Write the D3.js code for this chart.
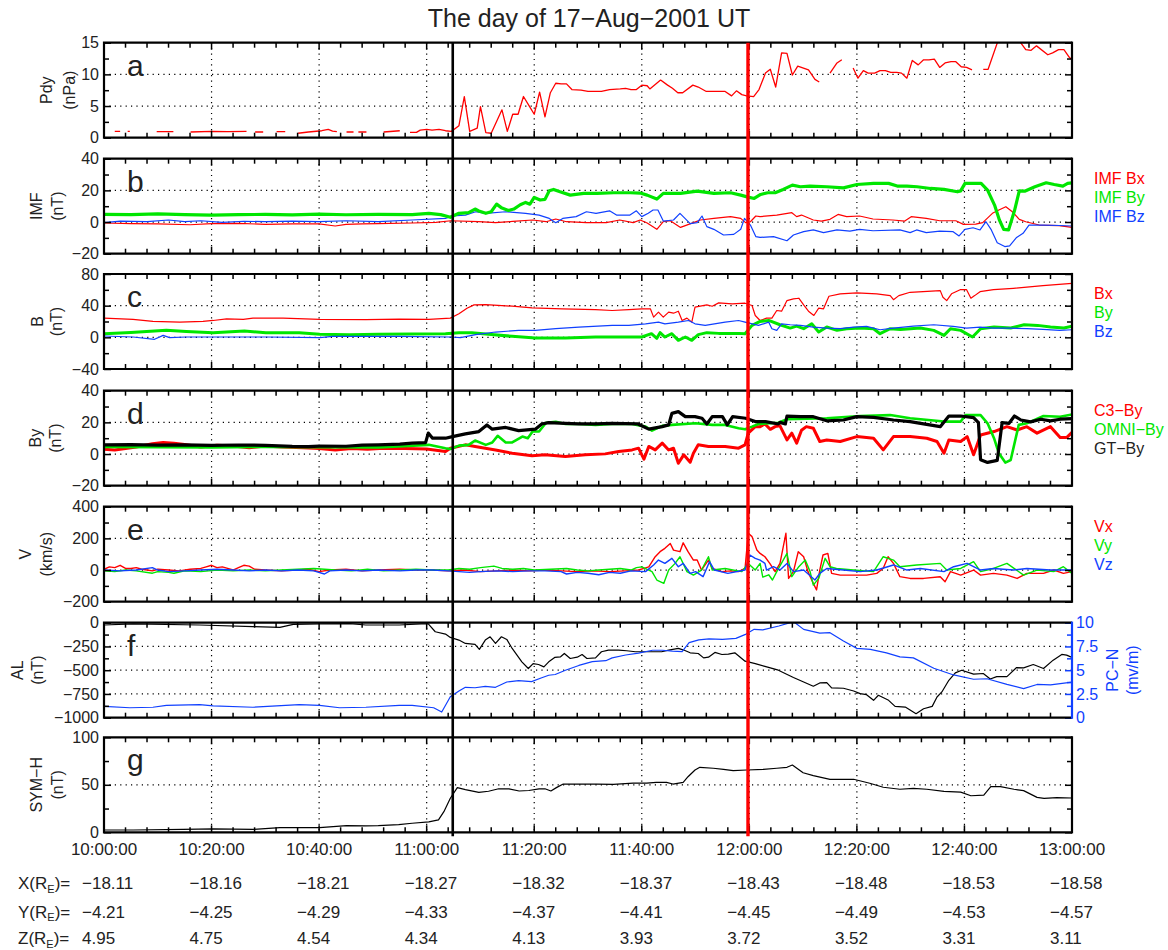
<!DOCTYPE html>
<html>
<head>
<meta charset="utf-8">
<script src="https://cdn.jsdelivr.net/npm/d3@7"></script>
<style>
  html, body { margin: 0; padding: 0; background: #fff; }
  svg { display: block; font-family: "Liberation Sans", Arial, Helvetica, sans-serif; }
</style>
</head>
<body>
<svg id="chart" width="1168" height="950"></svg>
<script>
// ---------------------------------------------------------------
// Time axis: minutes after 10:00 UT on 17-Aug-2001
// ---------------------------------------------------------------
const xTickLabels = ["10:00:00", "10:20:00", "10:40:00", "11:00:00", "11:20:00",
                     "11:40:00", "12:00:00", "12:20:00", "12:40:00", "13:00:00"];
const xGse = ["\u221218.11", "\u221218.16", "\u221218.21", "\u221218.27", "\u221218.32",
              "\u221218.37", "\u221218.43", "\u221218.48", "\u221218.53", "\u221218.58"];
const yGse = ["\u22124.21", "\u22124.25", "\u22124.29", "\u22124.33", "\u22124.37",
              "\u22124.41", "\u22124.45", "\u22124.49", "\u22124.53", "\u22124.57"];
const zGse = ["4.95", "4.75", "4.54", "4.34", "4.13", "3.93", "3.72", "3.52", "3.31", "3.11"];

// event markers (minutes after 10:00)
const eventTimes = [64.85, 119.75];

// (a) solar wind dynamic pressure, nPa  (null = data gap)
const pdy = [[2.0,1.0],[3.0,1.0],[3.0,null],[4.4,1.0],[4.8,1.0],[4.8,null],
  [9.8,0.95],[12.9,0.95],[12.9,null],[16.1,0.9],[20,1.0],[23,0.95],[26.5,1.0],[26.5,null],
  [28.1,0.9],[29.6,0.9],[29.6,null],[32.1,0.95],[33.7,0.95],[33.7,null],
  [36.1,0.7],[38,0.9],[40.5,1.1],[41.7,1.3],[42.5,1.05],[43.3,0.95],[43.3,null],
  [45.1,0.9],[46.4,0.9],[46.4,null],[47.3,0.9],[48.8,0.9],[48.8,null],
  [52,0.9],[55,1.1],[55,null],
  [56.9,0.85],[58.1,0.85],[58.8,1.2],[60,1.3],[61,1.2],[62.3,1.3],[63.5,1.1],[64.6,1.0],
  [66,1.9],[67,6.5],[68,1.0],[69.4,1.5],[70,4.9],[71,0.8],[72,0.7],[74,4.4],[75,1.0],
  [76,3.7],[77,3.7],[78,6.5],[79,5.1],[80,3.7],[81,7.2],[82,3.3],[83,7.1],[84,8.6],[85,8.5],
  [86,8.5],[87,7.6],[88.7,7.5],[90,7.3],[92.5,7.3],[94,7.6],[96,7.7],[97,7.8],[98,7.6],
  [99,7.6],[100,8.3],[101,8.2],[101.5,7.7],[103.5,9.1],[104.8,8.3],[105.7,7.8],[106.7,7.1],
  [107.6,7.1],[109.5,8.3],[110.5,8.0],[112,7.3],[115.5,7.3],[116.7,6.6],[117.6,7.4],
  [118.6,6.8],[119.5,6.6],[120.8,6.5],[121.8,7.6],[123,10.2],[123.9,10.8],[124.9,8.0],
  [126,13.4],[127,13.3],[128,9.9],[129,11.3],[131,10.7],[132.2,9.2],[133,8.8],[133,null],
  [135,10.2],[136.3,11.8],[137.2,12.3],[137.2,null],
  [139.3,11.0],[140.2,9.4],[141.2,10.6],[142.1,10.2],[143.3,10.2],[144.3,10.6],[145.3,10.6],
  [146.3,10.3],[147.4,10.3],[148.3,10.2],[149.3,9.4],[150.3,12.2],[151.4,11.5],[152.4,12.3],
  [153.4,12.3],[154.4,12.4],[155.4,11.1],[156.4,11.8],[157.5,12.0],[158.4,12.0],[159.4,11.2],
  [160.4,11.1],[161.4,10.7],[161.4,null],
  [163.5,10.8],[164.4,10.8],[166.2,15.2],[167.1,15.6],[168.2,15.2],[170.2,15.3],[171.4,13.9],
  [172.4,13.8],[173.4,14.5],[175.5,13.1],[176.4,13.4],[177.5,13.9],[178.5,13.9],[179.5,12.7],
  [180,12.3]];

// (b) IMF components, nT
const imfBx = [[0,-0.6],[5,-1.0],[10,-1.2],[16,-1.7],[20,-1.0],[25,-0.8],[30,-1.5],[35,-1.2],
  [40,-1.2],[43,-2.5],[45,-1.5],[48,-1.2],[51,-1.0],[57.3,-0.6],[61.7,-0.2],[64.5,0.8],
  [69.7,0.2],[72.8,-0.4],[76,0.4],[79.7,1.3],[82.2,0.2],[84,1.9],[86,0.2],[89.7,-0.4],
  [93.4,-0.4],[95.9,1.3],[98.4,-0.4],[99.7,1.3],[101,-0.6],[102.8,-4.6],[104,0.2],[105.3,0.8],
  [107.2,-3.4],[109.6,-0.4],[110.9,1.3],[113.4,2.3],[116.5,3.4],[118.4,2.3],[119.3,-0.4],
  [120.2,0.2],[121.2,3.8],[122,3.4],[125.1,4.4],[127.9,5.9],[128.8,3.4],[129.7,4.4],
  [131.9,1.3],[133.4,0.6],[135,1.7],[136.5,4.8],[138.1,3.4],[140.5,3.8],[143,1.9],[146.7,1.3],
  [148.9,0.6],[150.1,3.4],[152.9,2.3],[155.4,0.8],[158.4,0.8],[159.8,-1.5],[162.1,-1.3],
  [163.4,-0.4],[165.2,5.5],[166.4,7.6],[167.7,9.7],[168.9,6.5],[170.2,1.7],[171.4,0.2],
  [173.9,-1.9],[177.6,-2.3],[180,-3.4]];
const imfBy = [[0,4.8],[5,4.7],[10,5.2],[15,4.7],[20,4.4],[25,4.7],[30,4.8],[35,4.5],[40,5.0],
  [45,4.6],[51,4.8],[57.3,4.7],[60.4,5.5],[62.6,4.7],[64.4,3.0],[66,5.5],[67.8,5.9],[69,8.2],
  [69.7,7.0],[71,5.5],[72,6.5],[73,11.3],[74,8.8],[75.2,7.3],[76.2,8.2],[77.4,10.9],[78.4,12.4],
  [79.2,11.3],[80,15.5],[81.1,13.9],[82,14.3],[82.8,19.7],[83.6,20.6],[84.8,19.1],[86.7,17.0],
  [89.2,18.1],[91.7,18.1],[94.8,18.5],[97.9,18.5],[99.7,18.3],[101,17.0],[102.8,14.5],[104,18.1],
  [107.2,18.1],[110.3,19.5],[113.4,18.1],[116.5,18.5],[118.4,17.0],[119.6,15.9],[120.9,14.9],
  [122.1,17.4],[123.4,18.5],[124.8,18.5],[126.3,20.6],[128,23.3],[129.5,22.3],[131.3,22.7],
  [134.4,22.3],[137.5,21.6],[140,23.7],[143.1,24.4],[145.9,24.4],[147.5,22.7],[149.3,22.7],
  [151.2,22.3],[153.7,21.2],[156.2,20.6],[158.7,19.1],[159.3,19.7],[160.1,24.4],[163.1,24.4],
  [164.3,20.2],[165.6,10.7],[166.5,1.3],[167.3,-4.6],[168.2,-5.0],[169.3,7.1],[170.2,19.7],
  [171.2,19.5],[173.1,22.3],[175.2,24.8],[176.7,23.7],[178.3,22.7],[179.2,24.4],[180,24.8]];
const imfBz = [[0,-0.4],[3,0.6],[8,0.2],[12,1.3],[15,0.3],[18,0.8],[22,-0.2],[26,0.5],[30,0.2],
  [35,0.6],[40,0.2],[45,0.8],[51,0.2],[57.3,1.3],[63.5,2.3],[64.7,3.8],[67.2,4.4],[69.1,6.5],
  [71,5.5],[74.7,6.5],[78.4,5.5],[80.9,4.4],[82.8,2.3],[84,-0.4],[85.3,2.3],[87.8,3.4],[89.7,6.5],
  [91.5,5.5],[94,7.1],[95.3,4.4],[97.8,4.4],[99,7.1],[100,3.4],[101.2,5.5],[102.1,7.6],[103,7.6],
  [104,0.6],[105.9,1.3],[107.1,5.5],[109,-1.0],[110.3,-0.4],[111.2,3.8],[112.1,-2.9],[113.4,-4.6],
  [115.2,-8.2],[117.1,-7.8],[118.4,-4.6],[119.1,2.3],[120.2,-1.9],[121.2,-9.2],[122,-9.7],
  [124.5,-9.2],[127,-11.8],[128.2,-8.2],[130.1,-6.1],[131.9,-5.0],[133.8,-6.7],[136.3,-5.0],
  [138.7,-5.7],[140.5,-4.6],[143,-5.5],[148,-5.0],[149.9,-6.7],[151.1,-5.0],[152.9,-6.7],
  [155.4,-5.7],[157.9,-6.1],[159,-8.8],[160.1,-4.6],[161.6,-3.6],[162.9,-5.0],[164,0.2],
  [165,-5.0],[166.1,-13.1],[167.5,-15.5],[168.4,-15.0],[169.7,-9.7],[170.9,-7.1],[172,-1.9],
  [174.6,-1.9],[177.7,-2.2],[180,-2.5]];

// (c) magnetic field at the spacecraft, nT
const bx = [[0,24.3],[5.4,22.6],[9.1,20.1],[14.1,19.2],[18.4,20.1],[20.3,21.3],[22.8,23.4],
  [25.9,22.6],[27.7,24.3],[33.3,24.3],[40.1,22.6],[48.7,22.3],[54.9,23.0],[60.4,22.6],[64.4,24.3],
  [66,29.7],[67.5,36.8],[68.8,41.0],[71,41.4],[75.9,39.3],[79.6,37.2],[85.2,36.0],[91.4,35.1],
  [94.5,33.9],[97.6,35.1],[100,36.0],[101.6,36.0],[102.2,25.5],[103.1,31.8],[104,25.5],[105,31.8],
  [105.9,30.5],[106.8,33.0],[107.5,21.3],[108.4,24.3],[109.3,19.2],[109.9,38.1],[112.1,41.0],
  [113.1,39.3],[114.3,43.5],[116.8,42.3],[119.2,43.1],[120.5,40.2],[121.1,27.6],[122,21.3],
  [123.2,24.3],[124.2,24.3],[125.1,33.9],[126,33.0],[127,46.4],[128.2,48.5],[129.2,49.4],
  [130.1,41.0],[131,33.0],[132,27.6],[132.9,36.8],[133.8,36.0],[134.8,51.9],[136.9,54.8],
  [140,56.1],[143.7,54.8],[146.2,52.7],[146.8,47.6],[147.8,52.7],[149.9,56.9],[155.5,59.0],
  [156,50.6],[156.7,46.4],[157.6,55.0],[159.2,60.2],[160.4,60.2],[161.2,49.4],[161.9,52.7],
  [162.9,57.7],[165.4,60.2],[169.1,61.9],[174.6,65.2],[180,68.2]];
const by = [[0,4.6],[5,6.0],[11.6,8.8],[15.3,7.5],[20.3,5.9],[26.1,8.0],[30.1,5.9],[36.3,5.9],
  [40.1,3.8],[45.6,3.4],[51,3.8],[63.5,4.6],[66,5.9],[68.4,5.9],[71.5,3.8],[75.9,1.3],[80.2,-0.8],
  [85.8,-0.8],[91.4,0.4],[97,0.4],[100,0.4],[101.8,4.6],[102.8,-1.3],[103.4,5.9],[104.3,0.4],
  [105.6,4.6],[106.8,-3.8],[108.1,0.4],[109.3,-3.8],[110.5,3.4],[112.1,5.9],[114.3,5.0],[118,5.0],
  [119.2,4.6],[120.5,15.1],[122,20.1],[123.6,21.3],[125.7,15.9],[127.6,11.7],[128.8,14.2],
  [130.1,10.9],[131.6,17.1],[132.9,6.7],[134.4,13.0],[136.3,8.8],[138.1,10.9],[140.6,11.7],
  [143.1,10.9],[144.3,4.6],[146.2,10.9],[148.1,10.0],[151.8,11.7],[154.3,8.8],[156.2,2.5],
  [157.4,10.9],[159.3,8.8],[161.5,0.4],[163,10.9],[165.5,13.0],[168.6,11.7],[171.1,15.9],
  [173.6,15.1],[176,13.0],[178.5,11.7],[180,14.2]];
const bz = [[0,1.7],[5.4,0.4],[9.4,-2.5],[11,2.5],[12.2,-0.4],[15.3,0.4],[20.3,0.4],[30.1,0.4],
  [40.1,-0.4],[42.5,1.3],[54.9,1.3],[64.4,0.4],[66.3,-0.4],[69.1,3.4],[72.8,6.7],[77.1,8.8],
  [80.2,8.8],[84,10.9],[88.3,13.0],[94.5,15.1],[97.6,15.1],[100.7,17.1],[103.1,19.2],[104.3,17.1],
  [106.8,19.2],[108.7,21.3],[109.9,17.1],[111.8,15.1],[115.5,19.2],[118,21.3],[119.2,19.2],
  [121.7,15.1],[123.6,19.2],[124.2,10.9],[125.1,8.8],[126,17.1],[127.6,15.9],[129.5,15.1],
  [131.9,13.0],[134.4,11.7],[136.9,10.9],[139.4,13.0],[141.8,13.8],[144.3,9.6],[146.8,11.7],
  [150.5,14.2],[154.3,15.9],[157.9,13.8],[160.4,11.7],[162.9,13.0],[165.4,11.7],[168.4,11.7],
  [171.6,10.9],[174.6,10.0],[177.7,8.8],[180,9.6]];

// (d) By comparison, nT
const c3By = [[0,3.0],[2,2.5],[4,3.5],[6,4.5],[9,6.5],[11,7.3],[13,6.8],[15,6.0],[18,4.5],[21,5.5],
  [24,5.0],[27,4.0],[30,5.0],[33,4.5],[37,4.0],[40,3.5],[43,2.5],[46,3.5],[49,3.0],[52,3.7],
  [56,3.5],[60,3.2],[63.5,1.6],[64.4,3.7],[67.2,5.8],[69,4.8],[72.8,2.6],[75.9,0.5],[79.6,-1.1],
  [82,-0.5],[85.8,-1.6],[89.5,-0.5],[93.2,0.1],[95.7,1.6],[98.2,2.6],[99.4,3.7],[100.4,-3.2],
  [101.3,4.8],[102.5,2.6],[103.8,6.9],[105,2.6],[105.9,3.7],[106.8,-5.8],[107.8,-0.5],[109,-5.2],
  [109.6,0.5],[110.5,5.8],[112.4,4.8],[115.5,4.8],[118,3.7],[119.2,5.8],[119.8,13.2],[121.1,17.3],
  [122,17.3],[122.9,19.0],[123.9,15.6],[124.8,17.3],[125.7,17.8],[127,8.9],[127.9,13.2],
  [128.8,6.9],[129.7,15.0],[130.6,17.3],[131.9,16.3],[133.1,7.9],[134.4,8.9],[136.9,7.9],
  [140,11.0],[143.1,10.0],[144.9,2.6],[146.8,11.0],[149.9,11.0],[153,10.0],[154.9,7.9],
  [156.2,0.5],[157.1,8.9],[159.3,7.9],[160.5,11.0],[161.7,-0.5],[163,12.0],[165.5,14.2],
  [167.9,17.3],[169.8,15.2],[171.6,17.3],[173.5,13.2],[176,17.3],[177.8,10.4],[179,10.4],[180,13.7]];
const omniBy = [[0,4.5],[10,4.3],[20,4.2],[30,4.5],[40,4.3],[51,4.2],[60.4,5.8],[63.5,3.7],
  [64.4,3.2],[66,5.3],[67.8,5.8],[69,8.5],[71,5.8],[72.2,7.3],[73.2,11.5],[74.7,7.3],[75.9,7.3],
  [77.8,11.0],[78.8,10.0],[79.7,14.2],[80.9,14.2],[82.2,19.8],[84,20.4],[85.8,19.0],[88.3,19.0],
  [91.4,18.4],[94.5,19.0],[98.2,19.0],[100.7,17.3],[101.9,14.8],[103.8,17.8],[105.6,18.4],
  [110,19.4],[113.1,18.4],[115.5,18.4],[118,16.3],[119.2,15.6],[120.5,17.3],[121.7,19.0],
  [125.4,19.8],[127,22.0],[134.4,22.6],[140.6,24.0],[146.2,24.6],[149.9,22.6],[156.2,20.5],
  [159.3,20.5],[160.2,24.6],[163,24.6],[164.3,19.4],[165.5,10.0],[166.4,0.5],[167.6,-5.4],
  [168.6,-3.8],[170.1,18.4],[171.6,19.4],[174.7,24.0],[177.8,23.5],[180,25.0]];
const gtBy = [[0,5.8],[5,5.9],[10,5.6],[15,5.8],[20,5.5],[25,5.7],[30,5.5],[35,4.8],[38,4.7],
  [40,5.0],[45,4.9],[48,5.6],[51,5.8],[55,6.2],[57.3,6.9],[59.8,7.2],[60.3,13.2],[61.1,10.0],
  [63.5,10.0],[64.8,11.0],[67.2,12.7],[69.7,14.2],[71.2,18.4],[72.2,15.7],[74.7,16.8],[77.1,14.8],
  [80.2,15.7],[81.4,19.0],[82.7,19.8],[85.8,19.4],[88.3,19.0],[91.4,19.0],[94.5,19.4],[99.3,19.0],
  [101.3,15.7],[103.8,17.3],[105,18.4],[105.6,25.7],[106.8,26.8],[108.1,23.6],[109.9,23.6],
  [111.2,22.6],[112.1,19.0],[113.1,23.6],[115,23.6],[115.9,18.4],[116.9,23.6],[119.3,22.6],
  [121.1,20.5],[123,20.5],[125.4,19.0],[125.7,20.0],[126.7,19.0],[127,24.0],[129.5,23.6],
  [131.9,23.6],[134.4,21.0],[137.5,21.5],[140,23.6],[143.1,23.2],[146.8,21.5],[149.9,20.5],
  [152.4,19.0],[155.5,17.3],[157.1,24.0],[159.3,24.0],[161.7,23.0],[162.6,19.8],[163,-3.6],
  [164.3,-5.3],[166.1,-4.0],[167,19.8],[168.3,19.4],[169.3,24.0],[170.5,21.5],[172.3,20.3],
  [174.2,22.0],[176,20.9],[177.8,22.0],[180,22.4]];

// (e) plasma velocity, km/s
const vx = [[0,5],[1,20],[2,15],[3,30],[4,10],[5,10],[6,15],[7,5],[8,0],[9,-5],[10,5],[12,0],
  [14,-5],[16,5],[18,10],[19,20],[20,30],[21,15],[22,20],[23,10],[24,0],[25,15],[26,30],[27,25],
  [28,5],[30,0],[33,-5],[36,0],[38,5],[40,-10],[42,0],[45,5],[48,-5],[51,0],[55,5],[58,0],[61,0],
  [64,-5],[67,0],[70,-10],[73,-5],[76,0],[79,-5],[82,0],[85,-5],[88,-10],[91,-5],[94,-10],[97,-5],
  [99.4,0],[100.4,10],[101.3,20],[102.5,84],[103.4,116],[104.3,137],[105.3,168],[105.9,126],
  [107.1,116],[107.7,172],[108.6,116],[109.6,63],[110.3,63],[111.1,0],[112.4,63],[113.1,10],
  [114.9,-10],[116.5,-5],[118,-10],[119.2,10],[119.8,232],[120.5,211],[121.4,126],[122,105],
  [122.9,84],[123.8,42],[124.8,-10],[125.7,42],[126.8,232],[127.3,-53],[128.2,-10],[129.1,116],
  [130.1,84],[130.9,-10],[131.9,-84],[132.5,-126],[133.1,0],[133.7,95],[134.6,105],[135.3,-21],
  [136.9,-32],[139.4,-32],[141.8,-32],[143.7,-21],[144.9,11],[145.8,84],[146.8,42],[148,-42],
  [149.9,-53],[152.4,-53],[155.5,-42],[156.4,-74],[157.4,-10],[159.3,-32],[161.7,0],[163,-32],
  [165.4,-21],[167.9,-32],[169.8,-53],[171.6,-21],[174.7,-21],[176.6,0],[178.4,-21],[180,-10]];
const vy = [[0,-5],[2,-10],[4,0],[6,-5],[9,-20],[10,-10],[12,-15],[13,-20],[15,-5],[18,-10],[21,0],
  [24,-5],[27,0],[30,-5],[33,0],[36,5],[39,10],[41,5],[43,0],[46,-5],[49,5],[52,-5],[55,0],[58,5],
  [61,0],[64,0],[66,10],[68,5],[70,15],[72.5,25],[74,10],[76,5],[78,10],[80,0],[83,5],[86,10],
  [88,0],[90,-5],[92,0],[94,5],[96,10],[98,0],[99,15],[100,20],[101.9,-10],[102.8,-63],[104.1,-84],
  [105,0],[106.2,42],[107.1,84],[108.4,-10],[109.6,-32],[111.1,0],[112.4,84],[113.1,0],[115.5,10],
  [118.6,-10],[119.8,42],[121.1,0],[122,42],[122.5,-45],[123.6,-30],[124.3,-63],[125.1,-10],
  [126.3,63],[127,105],[127.9,-42],[129.2,21],[130.4,63],[131.3,-10],[131.9,-95],[132.9,-53],
  [134.1,74],[135,21],[136.2,10],[139.4,0],[143.1,-10],[144.9,84],[146.8,63],[148,21],[151.1,32],
  [155.5,42],[156.7,0],[159.3,10],[161.7,53],[163,-10],[165.4,10],[167.9,42],[171,-32],[173.5,0],
  [176.6,-10],[178.4,21],[180,-21]];
const vz = [[0,0],[3,-5],[6,0],[9,15],[10,0],[12,-10],[15,-5],[18,0],[21,5],[24,0],[27,-5],[30,0],
  [33,-5],[36,0],[39,-5],[41,-25],[42,-5],[45,0],[48,-5],[51,0],[55,-5],[58,0],[61,0],[64,-5],
  [66,-10],[68,-15],[70,-10],[73,-5],[76,-10],[79,-5],[82,-5],[85,-10],[86,-25],[88,-15],[90,-20],
  [92,-30],[94,-15],[96,-20],[98,-5],[100.7,-10],[102.2,32],[103.1,63],[104.3,42],[105.6,74],
  [106.8,21],[107.7,42],[109,-21],[110,-10],[111.4,-42],[112.6,53],[113.5,0],[116,-21],[119.2,0],
  [120.1,95],[121.1,74],[122,63],[122.9,42],[123.2,0],[124.5,21],[125.7,0],[127,42],[128.2,-10],
  [130.1,0],[132.2,-63],[133.1,-21],[134.4,10],[137.5,0],[140.6,-10],[143.7,0],[146.8,32],
  [149.3,0],[151.8,10],[156.2,-10],[158,21],[160.5,42],[163,0],[165.4,10],[169.1,0],[171.6,10],
  [176,0],[180,0]];

// (f) AL index (nT) and polar cap north index (mV/m)
const al = [[0,-24],[5.4,-13],[17.8,-24],[27.7,-42],[32.7,-49],[35.2,-17],[40.1,-13],[45.7,-10],
  [48.7,-24],[54.9,-24],[59,-13],[60.3,-13],[61.6,-95],[63.5,-120],[64.4,-155],[66,-183],
  [67.2,-218],[69,-229],[69.8,-281],[70.9,-183],[71.8,-148],[72.8,-218],[73.9,-148],[74.9,-176],
  [75.9,-271],[77.7,-412],[78.9,-482],[79.8,-430],[80.8,-440],[81.8,-465],[82.7,-412],[83.8,-366],
  [84.9,-359],[85.6,-324],[86.7,-377],[88,-363],[88.9,-335],[89.8,-377],[91.4,-370],[92.5,-306],
  [93.8,-288],[95.7,-288],[97.2,-295],[98.8,-306],[100.6,-306],[103.7,-306],[105,-288],
  [106.8,-271],[107.8,-288],[109,-317],[110.5,-324],[111.5,-370],[112.4,-363],[113.6,-313],
  [114.9,-335],[116.1,-331],[117.3,-317],[119.2,-405],[121.1,-430],[122.9,-460],[125.4,-500],
  [128.2,-577],[131.9,-669],[133.1,-634],[134.4,-630],[135.3,-687],[137.5,-690],[139.4,-719],
  [140.6,-747],[141.8,-758],[143.1,-817],[144,-764],[145.9,-817],[147.1,-881],[149,-888],
  [151,-958],[152.4,-906],[154,-881],[154.9,-782],[155.8,-729],[157.1,-606],[158.3,-528],
  [159.5,-500],[161.7,-542],[163.5,-535],[164.8,-592],[166,-567],[167.9,-567],[169.7,-472],
  [171,-475],[172.8,-440],[174.7,-482],[176.5,-394],[178.1,-334],[179,-341],[180,-366]];
const pcN = [[0,1.2],[4.8,1.05],[9.1,1.1],[11.6,1.3],[17.8,1.37],[20.3,1.25],[27.7,1.1],[36.3,1.37],
  [40.1,1.3],[43.8,1.05],[48.7,1.1],[54.9,1.3],[57.3,1.3],[61.3,1.05],[62.8,0.6],[64.4,2.2],
  [66,2.8],[67.2,3.2],[69,3.15],[70.9,3.3],[72.8,3.2],[74.9,3.76],[77.1,3.9],[79.5,3.8],[81.4,4.2],
  [82.7,4.47],[83.9,4.55],[85.8,5.0],[88.3,5.5],[90.8,5.9],[93.3,6.0],[94.5,6.3],[97,6.6],
  [99.4,6.8],[102,7.1],[103.8,7.1],[105.7,7.0],[107.5,6.95],[108.8,7.9],[110.6,8.2],[112.5,8.3],
  [115,8.25],[117.5,8.35],[119.4,8.8],[120.9,9.3],[122.5,9.25],[125.5,9.65],[127.6,10],[128.5,10],
  [130.1,9.3],[133.1,8.9],[135,8.95],[137.5,8.07],[140,7.3],[142.5,7.2],[145.5,6.83],[148,6.4],
  [150.5,6.3],[154.3,5.2],[158,4.5],[161.7,4.05],[164.2,4.1],[167.9,3.5],[171,3.06],[173.5,3.5],
  [176,3.45],[180,3.75]];

// (g) SYM-H index, nT
const symH = [[0,2.4],[5.4,2.4],[14.7,3],[20.3,3.7],[27.7,3],[32.7,4.9],[40.1,4.9],[45.1,7],
  [48.7,6.8],[51,7],[54.8,8],[57.3,9.5],[60.4,11],[62.2,13],[63.2,21.7],[64.4,35.8],[65.7,47],
  [67.2,45],[69.7,42],[71.5,43.2],[73.4,45.8],[75.3,45.8],[77.2,43.5],[79,44],[80.9,45.8],[82,45.8],
  [83.1,43.5],[84.2,47.3],[85.4,50.8],[88.5,50.8],[91.6,50.8],[94.7,50.5],[98.4,51.8],[100.9,51.8],
  [102.7,52.5],[104.6,52.5],[105.8,50.8],[107.7,52.5],[108.6,58.5],[109.9,65.6],[110.8,68.4],
  [113.3,67.4],[115.2,66.3],[117,64.9],[119.5,65.6],[122.6,66.3],[125.1,67.4],[127,68.4],[128,70.8],
  [130,62.7],[131.9,59.6],[135,55.8],[139.4,55.8],[142.4,51.6],[144.9,47.4],[148,45.3],[150.5,46.3],
  [153,45.3],[156.2,43],[159.3,42.3],[161.2,38.5],[163.6,39.2],[164.9,48],[166.7,48],[169.2,45.3],
  [171,43.9],[173.5,36.8],[174.8,35.8],[177.2,36.5],[180,36.1]];

// ---------------------------------------------------------------
// Drawing
// ---------------------------------------------------------------
const RED = "#ff0000", GREEN = "#00e600", BLUE = "#1040ff", BLACK = "#000000";
const TEXT = "#222222";
const svg = d3.select("#chart");
const X0 = 104, X1 = 1072, PH = 95;
const x = d3.scaleLinear().domain([0, 180]).range([X0, X1]);
const fmt = d => String(d).replace("-", "\u2212");

const panels = [
  { top: 42.7, domain: [0, 15], major: [0, 5, 10, 15], minor: 2.5, letter: "a",
    label: ["Pdy", "(nPa)"], labelX: [46, 69],
    series: [{ data: pdy, color: RED, width: 1.3 }] },
  { top: 158.7, domain: [-20, 40], major: [-20, 0, 20, 40], minor: 10, letter: "b",
    label: ["IMF", "(nT)"], labelX: [36, 57],
    series: [{ data: imfBx, color: RED, width: 1.2 }, { data: imfBz, color: BLUE, width: 1.2 },
             { data: imfBy, color: GREEN, width: 3.2 }],
    legend: [["IMF Bx", RED], ["IMF By", GREEN], ["IMF Bz", BLUE]] },
  { top: 274, domain: [-40, 80], major: [-40, 0, 40, 80], minor: 20, letter: "c",
    label: ["B", "(nT)"], labelX: [37, 56],
    series: [{ data: bx, color: RED, width: 1.2 }, { data: by, color: GREEN, width: 3 },
             { data: bz, color: BLUE, width: 1.2 }],
    legend: [["Bx", RED], ["By", GREEN], ["Bz", BLUE]] },
  { top: 390.7, domain: [-20, 40], major: [-20, 0, 20, 40], minor: 10, letter: "d",
    label: ["By", "(nT)"], labelX: [35, 55],
    series: [{ data: c3By, color: RED, width: 3 }, { data: omniBy, color: GREEN, width: 2.6 },
             { data: gtBy, color: BLACK, width: 3.2 }],
    legend: [["C3\u2212By", RED], ["OMNI\u2212By", GREEN], ["GT\u2212By", TEXT]] },
  { top: 506.7, domain: [-200, 400], major: [-200, 0, 200, 400], minor: 100, letter: "e",
    label: ["V", "(km/s)"], labelX: [25, 46],
    series: [{ data: vx, color: RED, width: 1.4 }, { data: vy, color: GREEN, width: 1.4 },
             { data: vz, color: BLUE, width: 1.4 }],
    legend: [["Vx", RED], ["Vy", GREEN], ["Vz", BLUE]] },
  { top: 622.7, domain: [-1000, 0], major: [-1000, -750, -500, -250, 0], minor: 125, letter: "f",
    label: ["AL", "(nT)"], labelX: [17, 37],
    series: [{ data: al, color: BLACK, width: 1.2 }],
    right: { domain: [0, 10], major: [0, 2.5, 5, 7.5, 10], minor: 1.25,
             series: { data: pcN, color: BLUE, width: 1.2 }, label: ["PC\u2212N", "(mv/m)"],
             labelX: [1112, 1132] } },
  { top: 737.3, domain: [0, 100], major: [0, 50, 100], minor: 25, letter: "g",
    label: ["SYM\u2212H", "(nT)"], labelX: [36, 57],
    series: [{ data: symH, color: BLACK, width: 1.2 }] }
];

const majorX = d3.range(0, 181, 20);
const minorX = d3.range(0, 181, 4);
const defs = svg.append("defs");

function tickLines(g, positions, len, color, orient) {
  // short inward ticks along one edge
  g.selectAll(null).data(positions).enter().append("line")
    .attr("x1", d => orient.x1(d)).attr("x2", d => orient.x2(d, len))
    .attr("y1", d => orient.y1(d)).attr("y2", d => orient.y2(d, len))
    .attr("stroke", color).attr("stroke-width", 1.5);
}

panels.forEach((p, i) => {
  const y0 = p.top, y1 = p.top + PH;
  const y = d3.scaleLinear().domain(p.domain).range([y1, y0]);
  const g = svg.append("g");

  defs.append("clipPath").attr("id", "clip" + i)
    .append("rect").attr("x", X0).attr("y", y0).attr("width", X1 - X0).attr("height", PH);

  // dotted grid
  const grid = g.append("g").attr("stroke", "#000").attr("stroke-width", 1.2)
    .attr("stroke-dasharray", "1.2,4.2");
  grid.selectAll(null).data(majorX.filter(t => t > 0 && t < 180)).enter().append("line")
    .attr("x1", d => x(d)).attr("x2", d => x(d)).attr("y1", y0).attr("y2", y1);
  grid.selectAll(null).data(p.major.filter(v => v > p.domain[0] && v < p.domain[1])).enter()
    .append("line").attr("x1", X0).attr("x2", X1).attr("y1", d => y(d)).attr("y2", d => y(d));

  // data lines
  const plot = g.append("g").attr("clip-path", `url(#clip${i})`);
  const drawLine = (s, ys) => {
    const line = d3.line().defined(d => d[1] !== null)
      .x(d => x(d[0])).y(d => ys(d[1]));
    plot.append("path").datum(s.data).attr("d", line)
      .attr("fill", "none").attr("stroke", s.color).attr("stroke-width", s.width)
      .attr("stroke-linejoin", "round");
  };
  let yR = null;
  if (p.right) {
    yR = d3.scaleLinear().domain(p.right.domain).range([y1, y0]);
  }
  p.series.forEach(s => drawLine(s, y));
  if (p.right) drawLine(p.right.series, yR);

  // x ticks on bottom and top edges (inward)
  const minorOnly = minorX.filter(t => t % 20 !== 0);
  const tb = g.append("g");
  const down = { x1: d => x(d), x2: d => x(d), y1: () => y1, y2: (d, l) => y1 - l };
  const up = { x1: d => x(d), x2: d => x(d), y1: () => y0, y2: (d, l) => y0 + l };
  tickLines(tb, majorX, 7, "#000", down);
  tickLines(tb, minorOnly, 5, "#000", down);
  tickLines(tb, majorX, 7, "#000", up);
  tickLines(tb, minorOnly, 5, "#000", up);

  // left y axis: major ticks with labels, minor ticks
  const minorY = d3.range(p.domain[0], p.domain[1] + 1e-9, p.minor)
    .filter(v => !p.major.some(m => Math.abs(m - v) < 1e-9));
  const leftAx = g.append("g").attr("transform", `translate(${X0},0)`)
    .call(d3.axisLeft(y).tickValues(p.major).tickSize(-7).tickSizeOuter(0)
      .tickPadding(5).tickFormat(fmt));
  leftAx.select(".domain").remove();
  leftAx.selectAll("line").attr("stroke", "#000").attr("stroke-width", 1.5);
  leftAx.selectAll("text").attr("font-size", 16).attr("fill", TEXT)
    .attr("font-family", "Liberation Sans, Arial, sans-serif");
  const leftMinor = g.append("g").attr("transform", `translate(${X0},0)`)
    .call(d3.axisLeft(y).tickValues(minorY).tickSize(-5).tickSizeOuter(0).tickFormat(""));
  leftMinor.select(".domain").remove();
  leftMinor.selectAll("line").attr("stroke", "#000").attr("stroke-width", 1.5);

  // right edge ticks
  const rScale = p.right ? yR : y;
  const rMajor = p.right ? p.right.major : p.major;
  const rMinorStep = p.right ? p.right.minor : p.minor;
  const rDomain = p.right ? p.right.domain : p.domain;
  const rColor = p.right ? BLUE : "#000";
  const rMinor = d3.range(rDomain[0], rDomain[1] + 1e-9, rMinorStep)
    .filter(v => !rMajor.some(m => Math.abs(m - v) < 1e-9));
  const rightAx = g.append("g").attr("transform", `translate(${X1},0)`)
    .call(d3.axisRight(rScale).tickValues(rMajor).tickSize(-7).tickSizeOuter(0)
      .tickPadding(4).tickFormat(p.right ? fmt : ""));
  rightAx.select(".domain").remove();
  rightAx.selectAll("line").attr("stroke", rColor).attr("stroke-width", 1.5);
  rightAx.selectAll("text").attr("font-size", 16).attr("fill", BLUE)
    .attr("font-family", "Liberation Sans, Arial, sans-serif");
  const rightMinor = g.append("g").attr("transform", `translate(${X1},0)`)
    .call(d3.axisRight(rScale).tickValues(rMinor).tickSize(-5).tickSizeOuter(0).tickFormat(""));
  rightMinor.select(".domain").remove();
  rightMinor.selectAll("line").attr("stroke", rColor).attr("stroke-width", 1.5);

  // frame
  const frame = g.append("g").attr("stroke-width", 2.2).attr("fill", "none");
  frame.append("path").attr("d", `M${X1},${y0}H${X0}V${y1}H${X1}`).attr("stroke", "#000");
  frame.append("line").attr("x1", X1).attr("x2", X1).attr("y1", y0 - 1.1).attr("y2", y1 + 1.1)
    .attr("stroke", rColor);

  // panel letter
  g.append("text").attr("x", 127).attr("y", y0 + 33).attr("font-size", 30)
    .attr("fill", TEXT).text(p.letter);

  // y label (two rotated lines)
  const cy = (y0 + y1) / 2;
  p.label.forEach((t, k) => {
    g.append("text").attr("transform", `translate(${p.labelX[k]},${cy}) rotate(-90)`)
      .attr("text-anchor", "middle").attr("dominant-baseline", "central")
      .attr("font-size", 16).attr("fill", TEXT).text(t);
  });
  if (p.right) {
    p.right.label.forEach((t, k) => {
      g.append("text").attr("transform", `translate(${p.right.labelX[k]},${cy}) rotate(-90)`)
        .attr("text-anchor", "middle").attr("dominant-baseline", "central")
        .attr("font-size", 16).attr("fill", BLUE).text(t);
    });
  }

  // legend
  if (p.legend) {
    p.legend.forEach((l, k) => {
      g.append("text").attr("x", 1094).attr("y", y0 + 25 + k * 19)
        .attr("font-size", 16).attr("fill", l[1]).text(l[0]);
    });
  }

  // bottom panel: time labels
  if (i === panels.length - 1) {
    g.selectAll(null).data(majorX).enter().append("text")
      .attr("x", d => x(d)).attr("y", y1 + 23).attr("text-anchor", "middle")
      .attr("font-size", 17).attr("fill", TEXT).text((d, k) => xTickLabels[k]);
  }
});

// event markers across all panels
const evColors = [BLACK, RED], evWidths = [2.6, 3.4];
svg.append("g").selectAll("line").data(eventTimes).enter().append("line")
  .attr("x1", d => x(d)).attr("x2", d => x(d))
  .attr("y1", panels[0].top).attr("y2", panels[panels.length - 1].top + PH + 4)
  .attr("stroke", (d, k) => evColors[k]).attr("stroke-width", (d, k) => evWidths[k]);

// spacecraft position rows
const posRows = [["X", xGse, 889], ["Y", yGse, 917.5], ["Z", zGse, 944]];
posRows.forEach(([name, vals, yb]) => {
  const t = svg.append("text").attr("x", 18).attr("y", yb).attr("font-size", 17).attr("fill", TEXT);
  t.append("tspan").text(name + "(R");
  t.append("tspan").attr("font-size", 11).attr("dy", 3.5).text("E");
  t.append("tspan").attr("dy", -3.5).text(")=");
  svg.append("g").selectAll("text").data(vals).enter().append("text")
    .attr("x", (d, k) => x(majorX[k]) - 22).attr("y", yb)
    .attr("font-size", 17).attr("fill", TEXT).text(d => d);
});

// title
svg.append("text").attr("x", 589).attr("y", 27).attr("text-anchor", "middle")
  .attr("font-size", 25).attr("fill", TEXT).text("The day of 17\u2212Aug\u22122001 UT");
</script>
</body>
</html>
